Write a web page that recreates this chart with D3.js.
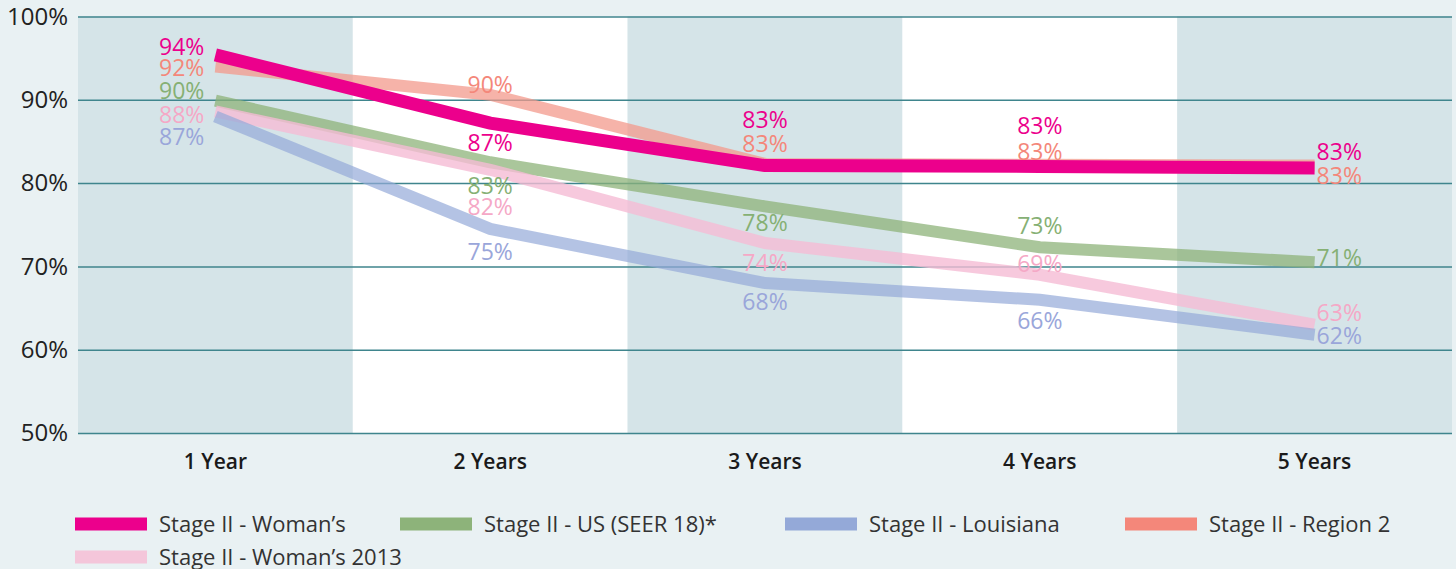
<html>
<script src="https://d3js.org/d3.v7.min.js"></script>
<style>
  body { margin: 0; background: #e9f1f3; }
  text { font-family: "Open Sans", sans-serif; }
</style>
<body>
<svg width="1456" height="569"></svg>
<script>
// data
var years = ["1 Year", "2 Years", "3 Years", "4 Years", "5 Years"];
var yTicks = [50, 60, 70, 80, 90, 100];

var womans = [95.4, 87.2, 82.1, 82.0, 81.8];
var womansLabels = ["94%", "87%", "83%", "83%", "83%"];
var region2 = [94.0, 90.6, 82.3, 82.2, 82.1];
var region2Labels = ["92%", "90%", "83%", "83%", "83%"];
var seer = [89.9, 82.5, 77.2, 72.3, 70.5];
var seerLabels = ["90%", "83%", "78%", "73%", "71%"];
var louisiana = [88.0, 74.5, 68.0, 66.0, 61.8];
var louisianaLabels = ["87%", "75%", "68%", "66%", "62%"];
var womans2013 = [88.6, 81.6, 72.8, 69.0, 63.0];
var womans2013Labels = ["88%", "82%", "74%", "69%", "63%"];

var series = [
  {name: "Stage II - Region 2", values: region2, labels: region2Labels, color: "#f4877a", line: "#f39a8c", op: 0.75, w: 12, text: "#f4877a"},
  {name: "Stage II - US (SEER 18)*", values: seer, labels: seerLabels, color: "#8db37a", line: "#8db37a", op: 0.75, w: 12, text: "#86b074"},
  {name: "Stage II - Woman\u2019s 2013", values: womans2013, labels: womans2013Labels, color: "#f4c6da", line: "#f5bcd5", op: 0.8, w: 12, text: "#f5a8c6"},
  {name: "Stage II - Louisiana", values: louisiana, labels: louisianaLabels, color: "#94a9d8", line: "#94a9d8", op: 0.7, w: 12, text: "#9aa6da"},
  {name: "Stage II - Woman\u2019s", values: womans, labels: womansLabels, color: "#ec008c", line: "#ec008c", op: 1, w: 13, text: "#ec008c"}
];

// label y-positions in pixels relative to line point (layout only)
var labelDy = {
  "Stage II - Woman\u2019s":       [-8, 20, -46, -40, -16],
  "Stage II - Region 2":           [1, -10, -20, -13, 10],
  "Stage II - US (SEER 18)*":      [-10, 24, 17, -21, -4],
  "Stage II - Woman\u2019s 2013":  [3, 37, 20, -11, -12],
  "Stage II - Louisiana":          [20, 23, 19, 21, 1]
};

var svg = d3.select("svg");
var plotLeft = 78, plotRight = 1452, plotTop = 16.5, plotBottom = 433;

var xBand = d3.scaleBand().domain(years).range([plotLeft, plotRight]);
var x = function(d) { return xBand(d) + xBand.bandwidth() / 2; };
var y = d3.scaleLinear().domain([50, 100]).range([plotBottom, plotTop]);

// plot background bands
svg.selectAll(".band")
  .data(years)
  .enter()
  .append("rect")
    .attr("x", function(d) { return xBand(d); })
    .attr("y", plotTop)
    .attr("width", xBand.bandwidth())
    .attr("height", plotBottom - plotTop)
    .attr("fill", function(d, i) { return i % 2 === 0 ? "#d5e4e8" : "#ffffff"; });

// gridlines + y labels
svg.append("g")
  .attr("transform", "translate(" + plotLeft + ",0)")
  .call(d3.axisLeft(y).tickValues(yTicks).tickSize(-(plotRight - plotLeft)).tickPadding(10)
    .tickFormat(function(d) { return d + "%"; }))
  .call(function(g) {
    g.select(".domain").remove();
    g.selectAll(".tick line").attr("stroke", "#3f858d").attr("stroke-width", 1.5);
    g.selectAll(".tick text").attr("fill", "#222").style("font-size", "24px")
      .style("font-family", "'Open Sans', sans-serif").attr("x", -10);
  });

// x labels
svg.append("g")
  .attr("transform", "translate(0," + plotBottom + ")")
  .call(d3.axisBottom(xBand).tickSize(0).tickPadding(21))
  .call(function(g) {
    g.select(".domain").remove();
    g.selectAll(".tick text").attr("fill", "#1a1a1a").style("font-size", "21px")
      .style("font-weight", "600").style("font-family", "'Open Sans', sans-serif");
  });

// lines
var line = d3.line()
  .x(function(d, i) { return x(years[i]); })
  .y(function(d) { return y(d); });

series.forEach(function(s) {
  svg.append("path")
    .attr("d", line(s.values))
    .attr("fill", "none")
    .attr("stroke", s.line)
    .attr("stroke-opacity", s.op)
    .attr("stroke-width", s.w)
    .attr("stroke-linejoin", "miter");
});

// value labels
series.forEach(function(s) {
  svg.append("g").selectAll("text")
    .data(s.values)
    .enter()
    .append("text")
      .attr("x", function(d, i) {
        if (i === 0) return x(years[i]) - 11;
        if (i === 4) return x(years[i]) + 2;
        return x(years[i]);
      })
      .attr("y", function(d, i) { return y(d) + labelDy[s.name][i]; })
      .attr("dy", "0.35em")
      .attr("text-anchor", function(d, i) { return i === 0 ? "end" : (i === 4 ? "start" : "middle"); })
      .attr("fill", s.text)
      .style("font-size", "23px")
      .text(function(d, i) { return s.labels[i]; });
});

// legend
var legendItems = [
  {s: series[4], x: 75, y: 524},
  {s: series[1], x: 400, y: 524},
  {s: series[3], x: 785, y: 524},
  {s: series[0], x: 1125, y: 524},
  {s: series[2], x: 75, y: 557}
];
var legend = svg.append("g");
legendItems.forEach(function(it) {
  var row = legend.append("g").attr("transform", "translate(" + it.x + "," + it.y + ")");
  row.append("rect").attr("x", 0).attr("y", -6.5).attr("width", 72).attr("height", 13).attr("fill", it.s.color);
  row.append("text").attr("x", 84).attr("y", 0).attr("dy", "0.35em")
    .attr("fill", "#333").style("font-size", "22px").text(it.s.name);
});
</script>
</body>
</html>
